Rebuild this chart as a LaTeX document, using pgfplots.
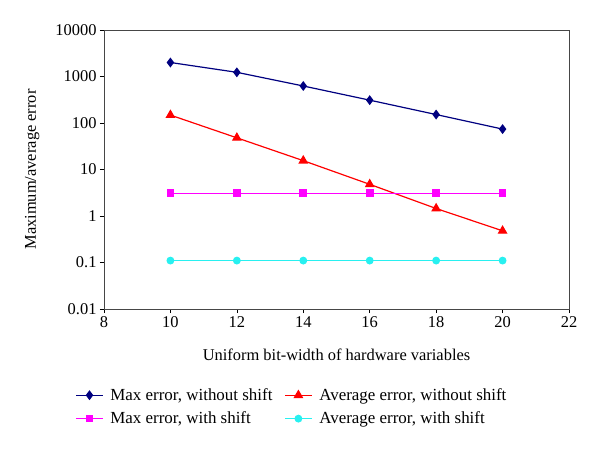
\documentclass[border=0pt]{standalone}
\usepackage{fontspec}
\setmainfont{Liberation Serif}
\usepackage{pgfplots}
\pgfplotsset{compat=1.18}

\definecolor{cNavy}{RGB}{0,0,128}
\definecolor{cRed}{RGB}{255,0,0}
\definecolor{cMag}{RGB}{255,0,255}
\definecolor{cCyan}{RGB}{40,240,240}
\definecolor{cAxis}{RGB}{70,70,70}

\begin{document}
\begin{tikzpicture}
\path[use as bounding box] (-104bp,-141bp) rectangle (496bp,309bp);
\begin{axis}[
    at={(0,0)}, anchor=south west,
    scale only axis,
    width=465bp, height=279bp,
    ymode=log,
    xmin=8, xmax=22,
    ymin=0.01, ymax=10000,
    xtick={8,10,...,22},
    ytick={0.01,0.1,1,10,100,1000,10000},
    yticklabels={0.01,0.1,1,10,100,1000,10000},
    minor tick num=0,
    yminorticks=false,
    tick align=outside,
    tick pos=left,
    major tick length=4bp,
    axis line style={cAxis, line width=0.9bp},
    tick style={black, line width=0.7bp},
    /pgf/number format/assume math mode=true,
    tick label style={font=\fontsize{16.5}{18}\selectfont},
    label style={font=\fontsize{16.5}{18}\selectfont},
    xlabel={Uniform bit-width of hardware variables},
    ylabel={Maximum/average error},
    xlabel style={yshift=-14bp},
    ylabel style={yshift=9bp},
    legend columns=2,
    legend cell align=left,
    legend style={draw=none, fill=none, at={(-0.068,-0.27)}, anchor=north west,
        font=\fontsize{17}{19}\selectfont,
        /tikz/every odd column/.append style={column sep=5bp},
        /tikz/every even column/.append style={column sep=10bp},
        row sep=6bp},
    legend image code/.code={
        \draw[mark repeat=2, mark phase=2] plot coordinates {(0cm,0cm) (0.47cm,0cm) (0.94cm,0cm)};},
]
\addplot[color=cNavy, line width=1.2bp, mark=diamond*, mark size=4bp]
    coordinates {(10,2000)(12,1230)(14,625)(16,310)(18,152)(20,74)};
\addlegendentry{Max error, without shift}
\addplot[color=cRed, line width=1.2bp, mark=triangle*, mark size=4.5bp]
    coordinates {(10,148)(12,48)(14,15.5)(16,4.8)(18,1.45)(20,0.48)};
\addlegendentry{Average error, without shift}
\addplot[color=cMag, line width=1.2bp, mark=square*, mark size=3.2bp]
    coordinates {(10,3.1)(12,3.1)(14,3.1)(16,3.1)(18,3.1)(20,3.1)};
\addlegendentry{Max error, with shift}
\addplot[color=cCyan, line width=1.2bp, mark=*, mark size=3.3bp]
    coordinates {(10,0.11)(12,0.11)(14,0.11)(16,0.11)(18,0.11)(20,0.11)};
\addlegendentry{Average error, with shift}
\end{axis}
\end{tikzpicture}
\end{document}
